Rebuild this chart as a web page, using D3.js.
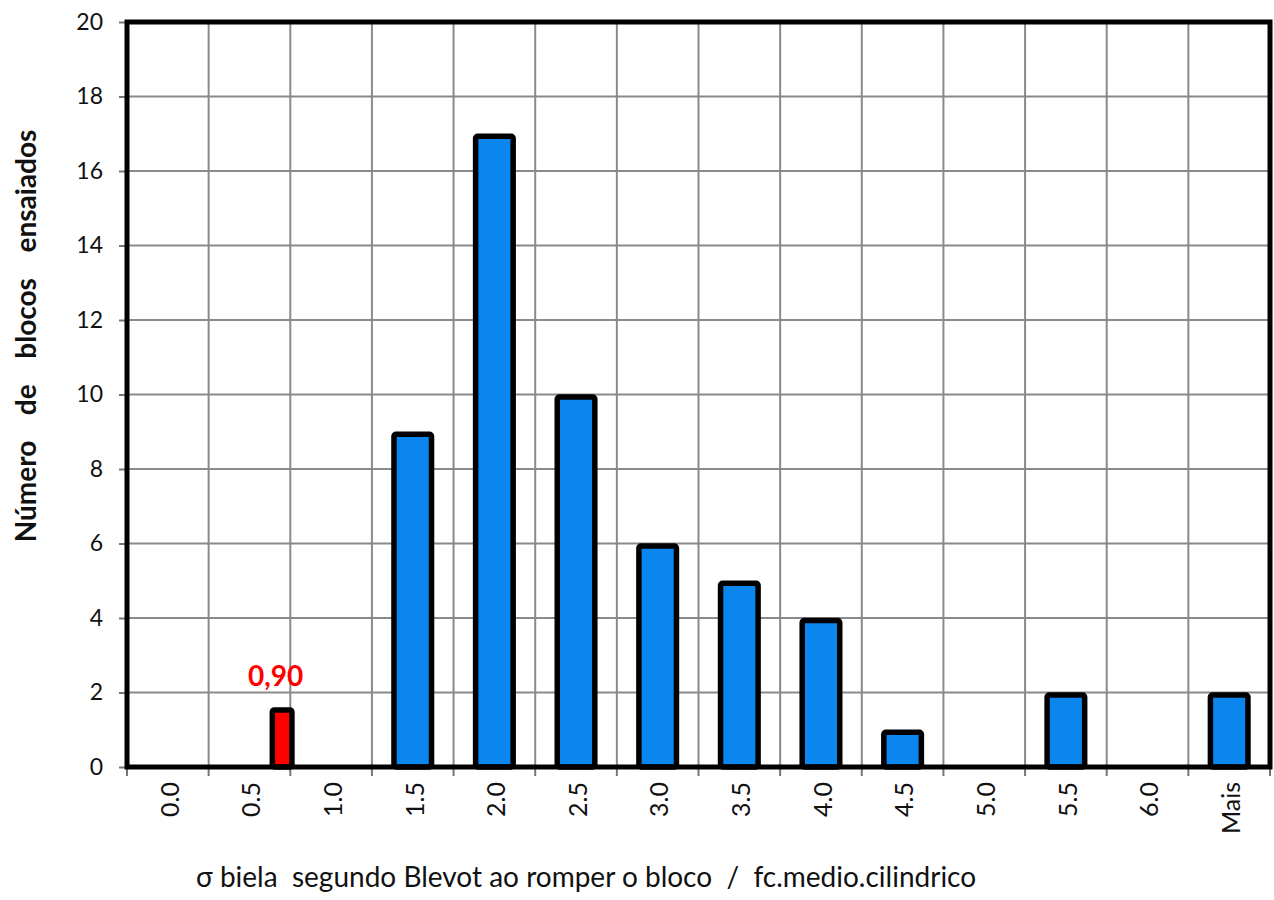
<!DOCTYPE html>
<html><head><meta charset="utf-8">
<script src="https://cdn.jsdelivr.net/npm/d3@7"></script>
<style>body{margin:0;background:#fff}svg{display:block}text{font-family:Lato,"Open Sans",sans-serif}</style>
</head><body><svg id="c" width="1274" height="900"></svg>
<script>
const categories = ["0.0","0.5","1.0","1.5","2.0","2.5","3.0","3.5","4.0","4.5","5.0","5.5","6.0","Mais"];
const counts = [0,0,0,9,17,10,6,5,4,1,0,2,0,2];
const highlight = [{cat:"0.5", value:1.6, label:"0,90"}];
const yTicks = [0,2,4,6,8,10,12,14,16,18,20];
const yTitle = "Número  de  blocos  ensaiados";
const xTitle = "σ biela  segundo Blevot ao romper o bloco  /  fc.medio.cilindrico";

const svg = d3.select("#c");
const L=127, R=1270, T=22, B=767;
const x = d3.scaleBand().domain(categories).range([L,R]).padding(0);
const y = d3.scaleLinear().domain([0,20]).range([B,T]);
const g = svg.append("g");

g.selectAll(".hg").data(yTicks).join("line")
  .attr("x1",L).attr("x2",R).attr("y1",d=>y(d)).attr("y2",d=>y(d))
  .attr("stroke","#8a8a8a").attr("stroke-width",2);
g.selectAll(".vg").data(categories.slice(1)).join("line")
  .attr("x1",d=>x(d)).attr("x2",d=>x(d)).attr("y1",T).attr("y2",B)
  .attr("stroke","#8a8a8a").attr("stroke-width",2);

const ya = d3.axisLeft(y).tickValues(yTicks).tickSize(8).tickPadding(16).tickFormat(d3.format("d"));
const yg = svg.append("g").attr("transform",`translate(${L},0)`).call(ya);
yg.select(".domain").remove();
yg.selectAll(".tick line").attr("stroke","#777").attr("stroke-width",2);
yg.selectAll(".tick text").attr("font-size",23).attr("fill","#111").attr("font-family","Lato,sans-serif");

const xb = categories.map(c=>x(c)).concat([R]);
svg.selectAll(".xt").data(xb).join("line")
  .attr("x1",d=>d).attr("x2",d=>d).attr("y1",B).attr("y2",B+9)
  .attr("stroke","#777").attr("stroke-width",2);
const xa = d3.axisBottom(x).tickSize(0);
const xg = svg.append("g").attr("transform",`translate(0,${B})`).call(xa);
xg.select(".domain").remove();
xg.selectAll(".tick text").attr("font-size",25).attr("fill","#111")
  .attr("text-anchor","end").attr("dy","0.35em")
  .attr("transform","translate(2,15) rotate(-90)").attr("x",0).attr("y",0);

const bw = x.bandwidth()*0.46;
svg.selectAll(".bar").data(categories.map((c,i)=>({c,v:counts[i]})).filter(d=>d.v>0)).join("rect")
  .attr("x",d=>x(d.c)+x.bandwidth()/2-bw/2).attr("width",bw)
  .attr("y",d=>y(d.v)+2.5).attr("height",d=>y(0)-y(d.v)-2.5)
  .attr("fill","#0a86ee").attr("stroke","#000").attr("stroke-width",5.5).attr("rx",2);

const hw = x.bandwidth()*0.24;
svg.selectAll(".hb").data(highlight).join("rect")
  .attr("x",d=>x(d.cat)+x.bandwidth()*0.9-hw/2).attr("width",hw)
  .attr("y",d=>y(d.value)+2.5).attr("height",d=>y(0)-y(d.value)-2.5)
  .attr("fill","#ff0000").attr("stroke","#000").attr("stroke-width",5.5).attr("rx",2);
svg.selectAll(".hl").data(highlight).join("text")
  .attr("x",d=>x(d.cat)+x.bandwidth()*0.82).attr("y",d=>y(d.value)-21)
  .attr("text-anchor","middle").attr("font-size",28).attr("font-weight","bold")
  .attr("fill","#ff0000").text(d=>d.label);

svg.append("rect").attr("x",L).attr("y",T).attr("width",R-L).attr("height",B-T)
  .attr("fill","none").attr("stroke","#000").attr("stroke-width",5);

svg.append("text").attr("transform",`translate(36,336) rotate(-90)`)
  .attr("text-anchor","middle").attr("font-size",28).attr("font-weight","bold")
  .attr("word-spacing",6)
  .attr("fill","#111").style("white-space","pre").text(yTitle);
svg.append("text").attr("x",196).attr("y",887).attr("font-size",28)
  .attr("fill","#111").style("white-space","pre").text(xTitle);
</script></body></html>
